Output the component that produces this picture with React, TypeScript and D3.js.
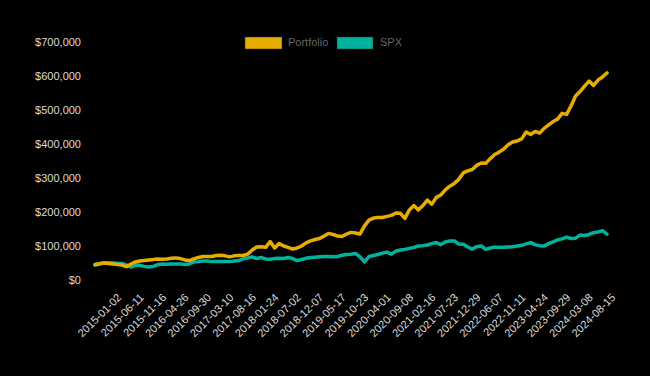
import React, { useEffect } from "react";
import * as d3 from "d3";

const W = 650;
const H = 376;

const tickLabels = [
  "2015-01-02", "2015-06-11", "2015-11-16", "2016-04-26", "2016-09-30",
  "2017-03-10", "2017-08-16", "2018-01-24", "2018-07-02", "2018-12-07",
  "2019-05-17", "2019-10-23", "2020-04-01", "2020-09-08", "2021-02-16",
  "2021-07-23", "2021-12-29", "2022-06-07", "2022-11-11", "2023-04-24",
  "2023-09-29", "2024-03-08", "2024-08-15",
];
// samples per tick interval
const SAMPLES_PER_TICK = 5;

// values in thousands of dollars, one sample per ~22 trading days
const portfolio = [
  47, 50, 53, 51.5, 50, 48.5, 47, 42, 50, 56,
  59, 60, 62, 63, 65, 64, 65, 67, 68, 66,
  62, 60, 65, 69, 72, 72, 72, 75, 76, 74,
  71, 74, 75, 75, 79, 91, 100, 101, 99, 116,
  97, 110, 103, 99, 94, 97, 103, 112, 118, 122,
  125, 132, 140, 137, 132, 131, 138, 143, 141, 138,
  162, 179, 185, 187, 187, 190, 193, 200, 199, 184,
  209, 222, 209, 222, 238, 226, 246, 253, 268, 279,
  287, 299, 318, 324, 328, 340, 347, 346, 360, 372,
  379, 388, 401, 409, 412, 418, 438, 431, 440, 435,
  449, 459, 469, 476, 493, 490, 515, 544, 557, 573,
  588, 575, 591, 600, 612,
];

const spx = [
  49, 51.5, 54, 54, 53, 52, 51.5, 47, 41, 46,
  46, 43, 41, 43, 48.5, 50, 49, 50, 50, 50,
  48.5, 50, 56, 57, 59, 59, 57, 57, 57, 57,
  57, 59, 60, 65, 68, 71, 66, 69, 65, 64,
  66, 67, 66, 69, 66, 60, 63, 67, 69, 70,
  71, 72, 72, 71, 72, 76, 78, 79, 81, 71,
  56, 72, 75, 78, 82, 85, 79, 88, 91, 93,
  96, 99, 103, 104, 106, 110, 113, 107, 115, 118,
  118, 109, 108, 100, 94, 101, 103, 93, 97, 99,
  99, 99, 100, 101, 103, 105, 109, 113, 107, 104,
  103, 110, 115, 121, 124, 129, 125, 126, 135, 134,
  137, 142, 144, 148, 138,
];

const yTicks = [0, 100, 200, 300, 400, 500, 600, 700];

const seriesNames = ["Portfolio", "SPX"];
const seriesColors = ["#e6ad00", "#00b3a0"];

export default function App() {
  useEffect(() => {
    document.body.style.margin = "0";
    document.body.style.background = "#000";
  }, []);

  const x = d3.scaleLinear().domain([0, portfolio.length - 1]).range([95, 607]);
  const y = d3.scaleLinear().domain([0, 700]).range([281, 43]);

  const line = d3
    .line<number>()
    .x((_, i) => x(i))
    .y((d) => y(d))
    .curve(d3.curveLinear);

  const fmt = (v: number) => "$" + d3.format(",")(v * 1000);
  const font = "'Liberation Sans', Arial, Helvetica, sans-serif";

  const series = [portfolio, spx];

  return (
    <svg width={W} height={H} style={{ display: "block", background: "#000" }}>
      <rect x={0} y={0} width={W} height={H} fill="#000" />
      {yTicks.map((t) => (
        <text
          key={t}
          x={81}
          y={y(t)}
          textAnchor="end"
          dominantBaseline="middle"
          fill="#dcdcdc"
          fontSize={11}
          fontFamily={font}
        >
          {fmt(t)}
        </text>
      ))}
      {tickLabels.map((lab, k) => {
        const tx = x(k * SAMPLES_PER_TICK) + 25;
        const ty = 296;
        return (
          <text
            key={lab}
            transform={`translate(${tx},${ty}) rotate(-45)`}
            textAnchor="end"
            dominantBaseline="middle"
            fill="#dcdcdc"
            fontSize={11}
            fontFamily={font}
          >
            {lab}
          </text>
        );
      })}
      {series
        .map((s, i) => ({ s, i }))
        .reverse()
        .map(({ s, i }) => (
          <path
            key={seriesNames[i]}
            d={line(s) || ""}
            fill="none"
            stroke={seriesColors[i]}
            strokeWidth={3.5}
            strokeLinejoin="round"
            strokeLinecap="round"
          />
        ))}
      <g fontFamily={font} fontSize={11}>
        <rect x={245} y={37} width={37} height={12} fill={seriesColors[0]} stroke="#333" strokeWidth={0.5} />
        <text x={288} y={43} dominantBaseline="middle" fill="#666">
          {seriesNames[0]}
        </text>
        <rect x={337} y={37} width={36} height={12} fill={seriesColors[1]} stroke="#333" strokeWidth={0.5} />
        <text x={380} y={43} dominantBaseline="middle" fill="#666">
          {seriesNames[1]}
        </text>
      </g>
    </svg>
  );
}
